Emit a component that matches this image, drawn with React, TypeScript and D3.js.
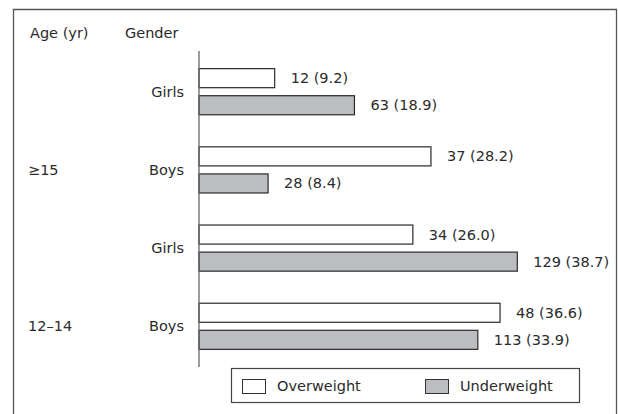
import React, { useEffect, useRef } from 'react'
import * as d3 from 'd3'

const ageGroups = ['\u226515', '12\u201314']
const genders = ['Girls', 'Boys']
const seriesNames = ['Overweight', 'Underweight']
const overweightN = [12, 37, 34, 48]
const overweightPct = [9.2, 28.2, 26.0, 36.6]
const underweightN = [63, 28, 129, 113]
const underweightPct = [18.9, 8.4, 38.7, 33.9]
const fills = ['#ffffff', '#bcbdc1']

const W = 618
const H = 414
const FONT = 'DejaVu Sans, sans-serif'
const TEXT = '#2b2b2b'

export default function App() {
  const ref = useRef<SVGSVGElement>(null)

  useEffect(() => {
    const svg = d3.select(ref.current)
    svg.selectAll('*').remove()

    const rows = ageGroups.flatMap((age, i) =>
      genders.map((g, j) => {
        const k = i * 2 + j
        return {
          key: age + g, age, gender: g, first: j === 1,
          vals: [
            { n: overweightN[k], p: overweightPct[k] },
            { n: underweightN[k], p: underweightPct[k] },
          ],
        }
      })
    )

    const x = d3.scaleLinear().domain([0, 40]).range([199, 528])
    const y = d3.scaleBand<string>().domain(rows.map(r => r.key)).range([53, 365]).paddingInner(0.41).paddingOuter(0.2)
    const inner = d3.scaleBand<string>().domain(seriesNames).range([0, y.bandwidth()]).paddingInner(0.296)

    // outer frame (no bottom edge visible)
    svg.append('path')
      .attr('d', `M13.5,${H + 2}V9.5H616.5V${H + 2}`)
      .attr('fill', 'none').attr('stroke', '#555').attr('stroke-width', 1.3)

    svg.append('text').attr('x', 30).attr('y', 38).text('Age (yr)')
    svg.append('text').attr('x', 125).attr('y', 38).text('Gender')

    const row = svg.selectAll('g.row').data(rows).join('g').attr('class', 'row')
      .attr('transform', d => `translate(0,${y(d.key)})`)

    row.append('text')
      .attr('x', 184).attr('y', y.bandwidth() / 2 + 5)
      .attr('text-anchor', 'end')
      .text(d => d.gender)

    row.filter(d => d.first).append('text')
      .attr('x', 28).attr('y', y.bandwidth() / 2 + 5)
      .text(d => d.age)

    row.selectAll('rect').data(d => d.vals).join('rect')
      .attr('x', x(0))
      .attr('y', (_, i) => inner(seriesNames[i])!)
      .attr('width', d => x(d.p) - x(0))
      .attr('height', inner.bandwidth())
      .attr('fill', (_, i) => fills[i])
      .attr('stroke', '#2a2a2a').attr('stroke-width', 1.2)

    row.selectAll('text.val').data(d => d.vals).join('text').attr('class', 'val')
      .attr('x', d => x(d.p) + 16)
      .attr('y', (_, i) => inner(seriesNames[i])! + inner.bandwidth() / 2 + 5)
      .text(d => `${d.n} (${d.p.toFixed(1)})`)

    svg.append('line')
      .attr('x1', x(0)).attr('x2', x(0)).attr('y1', 51).attr('y2', 367)
      .attr('stroke', '#666').attr('stroke-width', 1.3)

    // legend
    const lg = svg.append('g')
    lg.append('rect').attr('x', 231.5).attr('y', 368.5).attr('width', 348).attr('height', 34)
      .attr('fill', 'none').attr('stroke', '#444').attr('stroke-width', 1.2)
    seriesNames.forEach((s, i) => {
      const lx = [242, 425][i]
      lg.append('rect').attr('x', lx + 0.5).attr('y', 379.5).attr('width', 23).attr('height', 14)
        .attr('fill', fills[i]).attr('stroke', '#333').attr('stroke-width', 1)
      lg.append('text').attr('x', lx + 35).attr('y', 391).text(s)
    })

    svg.selectAll('text')
      .attr('font-family', FONT).attr('font-size', 14.5).attr('fill', TEXT)
  }, [])

  return (
    <svg ref={ref} width={W} height={H}
      style={{ position: 'absolute', left: 0, top: 0, background: '#fff' }} />
  )
}
